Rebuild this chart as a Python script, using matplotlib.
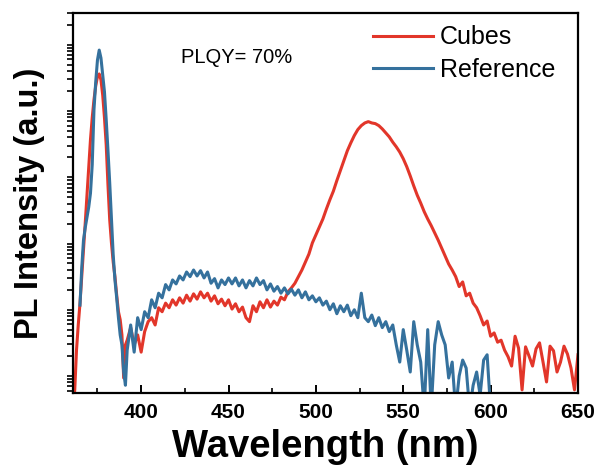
import matplotlib
matplotlib.use('Agg')
import matplotlib.pyplot as plt
import numpy as np

plt.rcParams['font.family'] = ['Liberation Sans', 'DejaVu Sans']

# wavelength grids (nm): 1 nm around the excitation peak, 2 nm after
wl_peak_cubes = np.arange(361, 392)
wl_peak_ref = np.arange(365, 392)
wl_cubes_rest = np.arange(392, 651, 2)
wl_ref_rest = np.arange(392, 601, 2)

# log10 of PL intensity (a.u.)
cubes_peak = [0.49, 0.79, 1.39, 1.77, 2.10, 2.50, 2.90, 3.31, 3.73, 4.16,
              4.57, 4.90, 5.17, 5.38, 5.52, 5.56, 5.47, 5.24, 4.90, 4.49,
              3.89, 3.36, 3.01, 2.72, 2.50, 2.22, 1.97, 1.85, 1.62, 0.97, 1.47]
cubes_rest = [1.54, 1.73, 1.47, 1.62, 1.36, 1.67, 1.82, 1.88, 1.77, 2.03,
              1.97, 2.10, 2.03, 2.15, 2.07, 2.18, 2.10, 2.22, 2.13, 2.24,
              2.16, 2.27, 2.18, 2.25, 2.13, 2.21, 2.09, 2.16, 2.06, 2.15,
              2.01, 2.09, 1.97, 2.04, 1.88, 1.82, 2.06, 1.97, 2.12, 2.03,
              2.15, 2.04, 2.13, 2.07, 2.19, 2.15, 2.27, 2.33, 2.40, 2.50,
              2.60, 2.72, 2.84, 3.01, 3.13, 3.25, 3.37, 3.52, 3.66, 3.79,
              3.95, 4.10, 4.25, 4.40, 4.52, 4.63, 4.72, 4.78, 4.82, 4.84,
              4.82, 4.81, 4.78, 4.73, 4.67, 4.61, 4.53, 4.46, 4.38, 4.28,
              4.16, 4.02, 3.87, 3.73, 3.61, 3.48, 3.37, 3.27, 3.16, 3.05,
              2.93, 2.81, 2.69, 2.60, 2.50, 2.35, 2.42, 2.21, 2.25, 2.10,
              2.03, 1.91, 1.77, 1.83, 1.60, 1.65, 1.51, 1.54, 1.39, 1.29,
              1.15, 1.60, 1.42, 0.79, 1.44, 1.30, 1.15, 1.41, 1.50, 1.21,
              0.91, 1.45, 1.38, 1.06, 1.21, 1.45, 1.33, 1.12, 0.79, 1.32]

ref_peak = [2.07, 2.63, 3.05, 3.24, 3.40, 3.55, 3.76, 4.19, 5.02, 5.44,
            5.77, 5.92, 5.80, 5.55, 5.29, 4.87, 4.41, 3.92, 3.39, 2.83,
            2.45, 2.18, 1.88, 1.62, 1.47, 1.06, 0.86]
ref_rest = [1.39, 1.77, 1.36, 1.88, 1.70, 1.97, 1.88, 2.15, 2.03, 2.25,
            2.18, 2.38, 2.30, 2.45, 2.39, 2.51, 2.45, 2.57, 2.50, 2.60,
            2.51, 2.59, 2.48, 2.57, 2.40, 2.47, 2.33, 2.45, 2.38, 2.48,
            2.39, 2.48, 2.36, 2.45, 2.33, 2.44, 2.36, 2.48, 2.38, 2.44,
            2.30, 2.39, 2.28, 2.35, 2.25, 2.33, 2.24, 2.31, 2.22, 2.30,
            2.18, 2.27, 2.15, 2.21, 2.12, 2.18, 2.07, 2.13, 2.00, 2.09,
            1.94, 2.06, 1.97, 2.07, 1.91, 2.00, 1.88, 2.25, 1.88, 1.82,
            1.92, 1.76, 1.88, 1.73, 1.82, 1.67, 1.77, 1.47, 1.21, 1.70,
            1.39, 1.06, 1.82, 1.47, 1.21, 0.49, 1.70, 0.49, 1.47, 1.82,
            1.62, 1.47, 0.97, 1.21, 0.49, 1.00, 1.24, 1.12, 0.49, 0.86,
            1.06, 0.71, 1.24, 1.32, 0.49]

wl_cubes = np.concatenate([wl_peak_cubes, wl_cubes_rest])
wl_ref = np.concatenate([wl_peak_ref, wl_ref_rest])
cubes = 10 ** np.array(cubes_peak + cubes_rest)
ref = 10 ** np.array(ref_peak + ref_rest)

fig = plt.figure(figsize=(5.95, 4.71), dpi=100)
ax = fig.add_axes([0.1227, 0.1656, 0.8487, 0.8068])

ax.plot(wl_cubes, cubes, color='#e2362a', lw=2.2, label='Cubes')
ax.plot(wl_ref, ref, color='#35719d', lw=2.2, label='Reference')

ax.set_yscale('log')
ax.set_xlim(361, 650)
ax.set_ylim(10 ** 0.743, 10 ** 6.48)
ax.set_xticks([400, 450, 500, 550, 600, 650])
ax.set_xticks(np.arange(375, 650, 50), minor=True)

for s in ax.spines.values():
    s.set_linewidth(1.6)
ax.tick_params(axis='x', which='major', direction='in', length=6, width=1.4,
               labelsize=15, pad=7)
ax.tick_params(axis='x', which='minor', direction='in', length=3.5, width=1.2)
ax.tick_params(axis='y', which='both', direction='out', length=4, width=1.2,
               labelleft=False)
for lab in ax.get_xticklabels():
    lab.set_fontweight('bold')

ax.set_xlabel('Wavelength (nm)', fontsize=27.5, fontweight='bold', labelpad=5)
ax.set_ylabel('PL Intensity (a.u.)', fontsize=23.5, fontweight='bold', labelpad=16)

ax.text(0.325, 0.882, 'PLQY= 70%', transform=ax.transAxes, ha='center',
        va='center', fontsize=14.5)
ax.legend(loc='upper right', frameon=False, fontsize=18, handlelength=2.4,
          handletextpad=0.3, labelspacing=0.35, borderaxespad=0.1,
          bbox_to_anchor=(0.98, 1.0))

fig.savefig('out.png', dpi=100)
